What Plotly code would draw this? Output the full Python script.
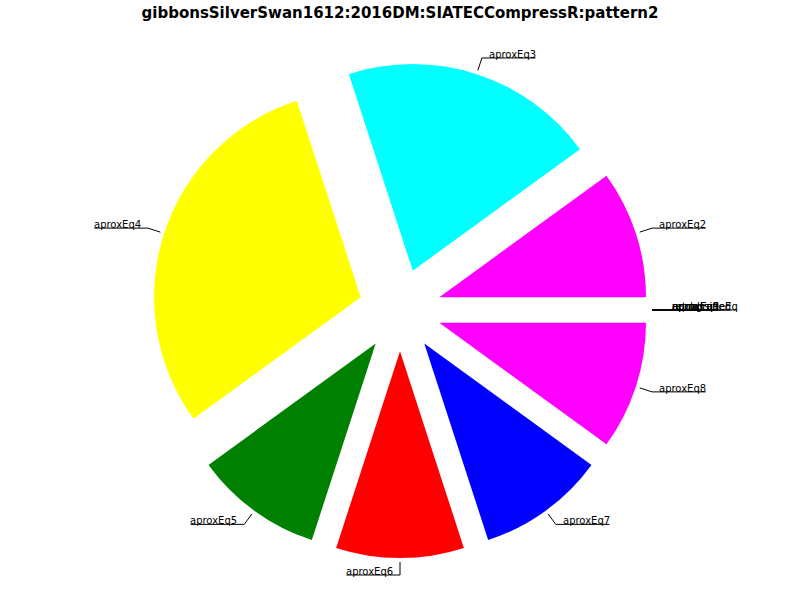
import math
import plotly.graph_objects as go

# ---- data ----
labels = ["equal", "aproxEq1", "aproxEq2", "aproxEq3", "aproxEq4", "aproxEq5",
          "aproxEq6", "aproxEq7", "aproxEq8", "aproxEq9", "unclassified", "retrogradeEq"]
values = [0, 0, 10, 20, 30, 10, 10, 10, 10, 0, 0, 0]
colors = ["#00ffff", "#ffff00", "#ff00ff", "#00ffff", "#ffff00", "#008000",
          "#ff0000", "#0000ff", "#ff00ff", "#008000", "#ff0000", "#0000ff"]
title = "gibbonsSilverSwan1612:2016DM:SIATECCompressR:pattern2"

# ---- layout constants (pixels) ----
W, H = 800, 600
CX, CY = 400, 310          # pie centre
PULL = 0.2
R_OUT = 248                # radius incl. pull
FONT = 10

# approximate DejaVu Sans advance widths (units of 1/2048 em)
ADV = dict(a=1255, b=1300, c=1126, d=1300, e=1260, f=721, g=1300, h=1298, i=569, j=569,
           k=1186, l=569, m=1995, n=1298, o=1253, p=1300, q=1300, r=842, s=1067, t=803,
           u=1298, v=1212, w=1675, x=1212, y=1212, z=1075, E=1294, R=1423)
def text_w(s):
    return sum(ADV.get(c, 1303) for c in s) / 2048 * FONT

def px(x):
    return x / W
def py(y):
    return 1 - y / H

fig = go.Figure()
fig.add_trace(go.Pie(
    labels=labels, values=values, sort=False, direction="counterclockwise",
    rotation=90, pull=[PULL] * len(values), textinfo="none", hoverinfo="none",
    marker=dict(colors=colors, line=dict(width=0)), showlegend=False,
    domain=dict(x=[0, 1], y=[py(CY + R_OUT), py(CY - R_OUT)]),
))

total = sum(values)
cum = 0
annotations = []
shapes = []
GAP = 6
for lab, v in zip(labels, values):
    mid = (cum + v / 2) / total * 2 * math.pi
    cum += v
    c, s = math.cos(mid), math.sin(mid)
    x0, y0 = CX + 252 * c, CY - 252 * s
    x1, y1 = CX + 265 * c, CY - 265 * s
    w = text_w(lab)
    right = c > 0
    x2 = x1 + (GAP + w) if right else x1 - (GAP + w)
    shapes.append(dict(type="path", xref="paper", yref="paper",
                       path=f"M {px(x0)},{py(y0)} L {px(x1)},{py(y1)} L {px(x2)},{py(y1)}",
                       line=dict(color="black", width=1)))
    annotations.append(dict(
        x=px(x1 + GAP) if right else px(x1 - GAP), y=py(y1), xref="paper", yref="paper",
        xanchor="left" if right else "right", yanchor="bottom", yshift=-3,
        text=lab, showarrow=False, borderpad=0,
        font=dict(family="DejaVu Sans", size=FONT, color="black")))

fig.update_layout(
    width=W, height=H, margin=dict(l=0, r=0, t=0, b=0),
    paper_bgcolor="white", plot_bgcolor="white",
    title=dict(text=title, x=0.5, xanchor="center", y=1 - 13 / H, yanchor="middle",
               font=dict(family="DejaVu Sans", size=15, color="black", weight="bold")),
    shapes=shapes, annotations=annotations,
)
fig.write_html("out.html")
